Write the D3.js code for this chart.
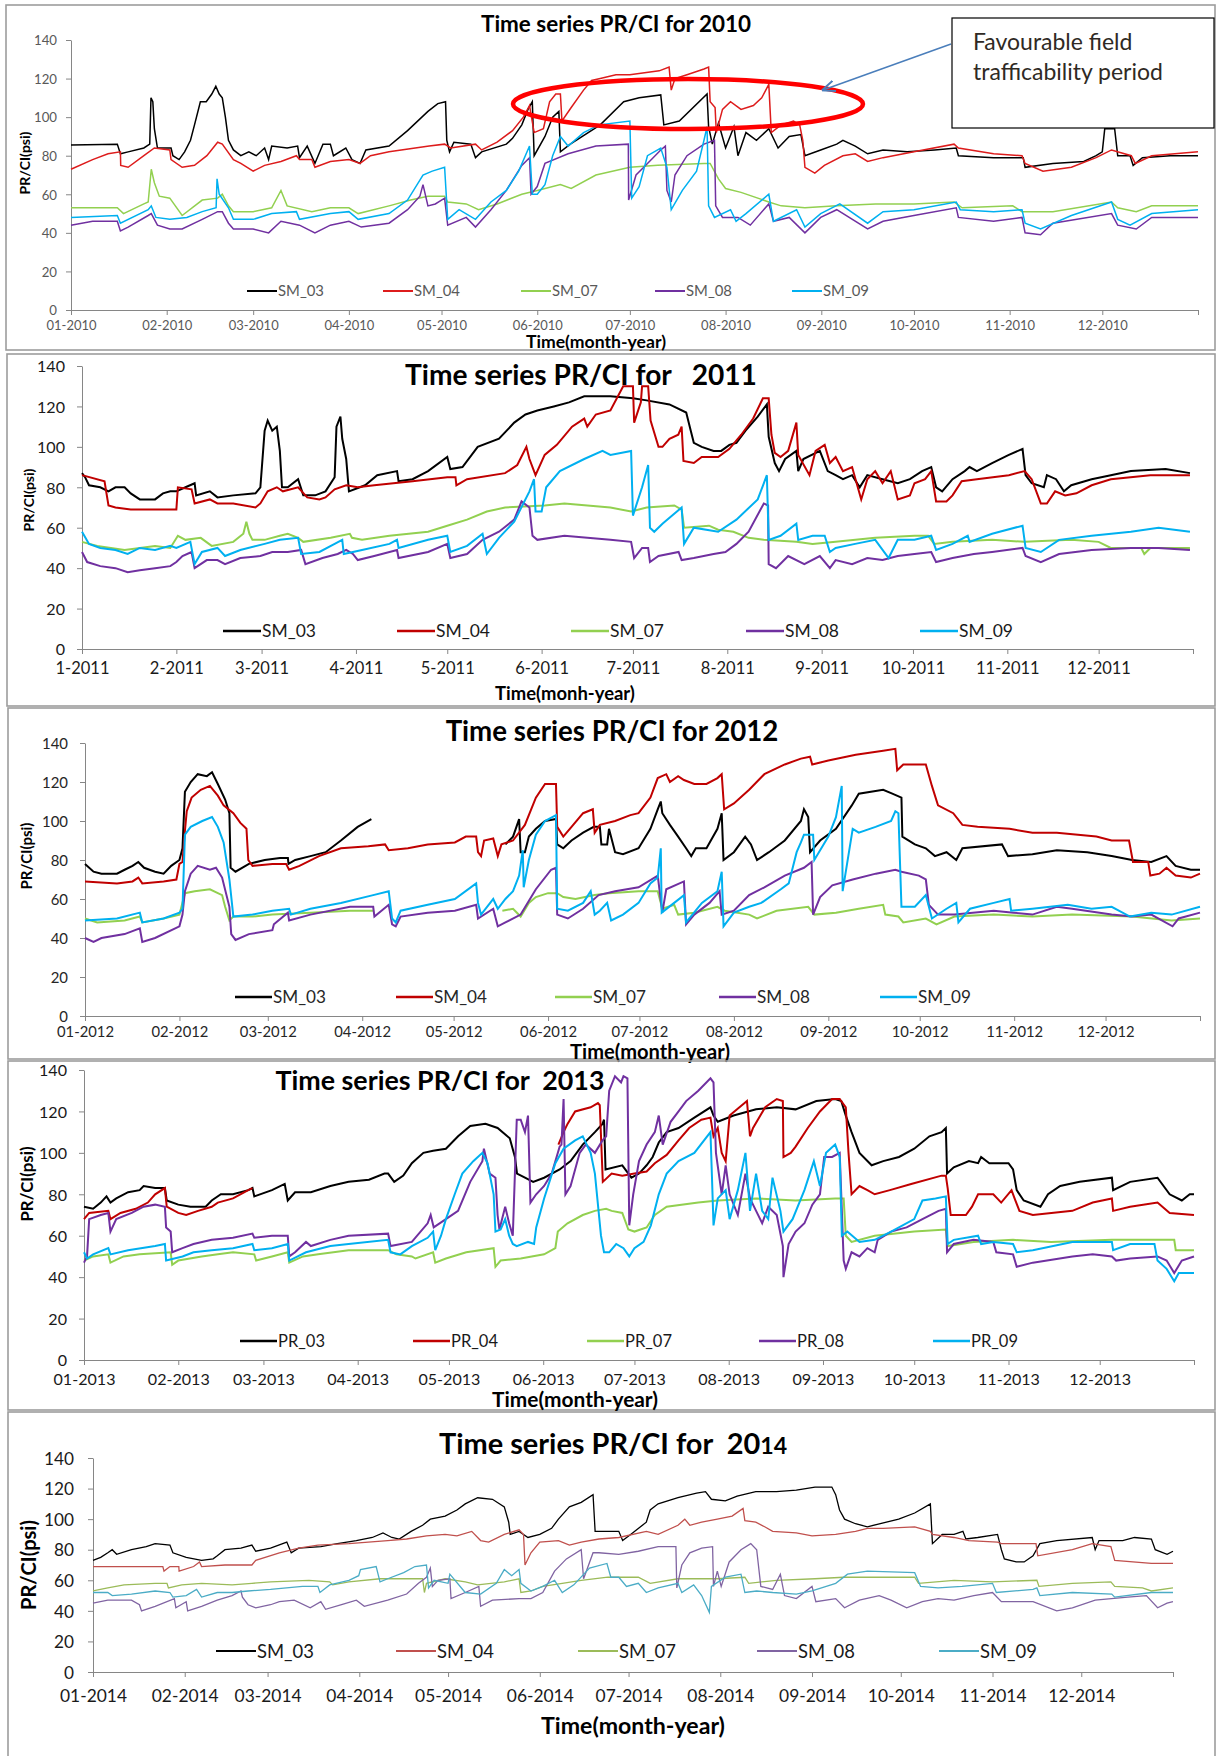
<!DOCTYPE html>
<html>
<head>
<meta charset="utf-8">
<script src="https://cdn.jsdelivr.net/npm/d3@7"></script>
<style>
  body { margin: 0; background: #fff; }
  svg { display: block; }
  text { font-family: Lato, "Open Sans", "Noto Sans", sans-serif; }
</style>
</head>
<body>
<svg id="chart" width="1217" height="1756"></svg>
<script>
// ---------- labels ----------
const namesSM = ["SM_03", "SM_04", "SM_07", "SM_08", "SM_09"];
const namesPR = ["PR_03", "PR_04", "PR_07", "PR_08", "PR_09"];
const yTicks = [0, 20, 40, 60, 80, 100, 120, 140];

// ---------- series: [day of year, PR/CI psi]; null marks a gap in the record ----------
// 2010
const sm03_2010 = [[0,85.5],[15,86],[16,81],[18.5,82],[23.6,84],[25.5,86],[25.9,110],[26.5,108],[27,94],[28,84],[32.4,84],[33,80],[35,78],[36.8,82],[38.7,88],[40,96],[41.9,108],[43.8,108],[45.6,112],[46.9,116],[48,112],[49,110],[50,100],[51,88],[52.6,83],[55,80],[57.6,82],[60,80],[62.7,84],[64,78],[65,85],[70,84],[73.4,85],[74,79],[76.5,85],[79,76],[81.6,86],[84,86],[85,80],[89,84],[91,78],[93.6,76],[95.5,83],[103,85],[109,93],[115.6,103],[118.8,107],[121.3,108],[121.7,88],[122.6,82],[124,87],[129.5,86],[131,79],[133,82],[141,86],[143,89],[146,96],[148,104],[149.4,108],[150,80],[153.5,90],[156,100],[158,103],[158.5,82],[161.7,86],[171.4,96],[179,108],[184,110],[191,111.5],[192,96],[197,98],[206,112],[206.5,95],[207.7,86],[209.7,97],[212,84],[214.7,95],[216,80],[218.6,92],[222,88],[226,94],[229,84],[232.6,90],[236.4,91],[237.7,80],[242.8,83],[248,86],[250,88],[254,85],[258,81],[263,83],[270.8,82],[279.7,83],[286.7,84],[287.4,80],[298.8,79],[308.4,79],[309,74],[318,76],[328,77],[332,80],[334,82],[334.8,94],[338,94],[339,80],[343,80],[344,75],[347,79],[356,80],[365,80]];
const sm04_2010 = [[0,73],[7,78],[12,81],[16,82],[16.1,75],[18.5,74],[23.6,80],[27,84],[32,83],[32.4,78],[36,74],[40,75],[44,80],[47.5,87],[49,86],[52.6,78],[55,76],[59,72],[62.7,75],[68,77],[73,80],[74,78],[78,78],[79,74],[84,77],[90,78],[93.6,76],[97,80],[103,82],[116,85],[121,86],[123,84],[131,86],[133,83],[138,87],[143,93],[146.5,100],[148.5,106],[150,92],[153,94],[155,108],[157,112],[158.5,112],[159,98],[162,105],[166,114],[168.6,119],[171.4,120],[176.5,122],[181,122],[190.5,124],[193.7,126],[194.4,114],[195.6,120],[199.5,122],[205,125],[206.5,126],[207,108],[208.6,105],[209,92],[211,104],[213.6,108],[217,104],[221,106],[223.7,110],[226,117],[226.8,92],[230,96],[234,98],[236,96],[237,88],[237.7,74],[240.9,71],[244,75],[250,80],[254,81],[258,77],[263,79],[273,82],[286,86],[287.4,84],[298.8,81],[308,80],[309,76],[314.8,72],[324,74],[332,79],[337,83],[343.4,80],[344.7,76],[350,80],[365,82]];
const sm07_2010 = [[0,53],[15,53],[17,50],[23.6,55],[25,56],[26,73],[27,66],[28.6,59],[32,58],[36,49],[42.5,57],[47.5,58],[49,60],[51,54],[52.6,51],[59,51],[65,53],[68,62],[70,54],[78,51],[84,53],[90,53],[93,50],[103,54],[110,57],[115.6,59],[121,59],[122,56],[128,55],[132,52],[138,55],[146,60],[151,62],[158.5,65],[162,63],[170,70],[181,74],[190,75],[205,76],[207,76],[209.7,68],[212,63],[217,61],[226,56],[230,54],[237.7,53],[248,54],[260.6,55],[273,55],[286,56],[288.6,53],[305,54],[308,51],[318,51],[337,56],[339,53],[345,51],[350,54],[365,54]];
const sm08_2010 = [[0,44],[7,46],[15,46],[16,41],[18.5,43],[25,49],[26,50],[28,44],[32,42],[36,42],[42.5,47],[47.5,51],[49,51],[51,45],[52.6,42],[59,42],[64,40],[68,46],[74,44],[79,40],[84,44],[90,46],[94,43],[103,45],[109,52],[113,59],[114,65],[115.6,54],[118,55],[121,58],[122,44],[128,48],[131,43],[136,52],[141,62],[146,75],[148.5,79],[149,60],[151,64],[153.5,76],[161,81],[170,85],[180.5,86],[180.6,57],[183,70],[185.5,74],[191,83],[192.5,85],[193,62],[194.4,56],[195.6,70],[199.5,80],[205,86],[208.4,88],[208.8,54],[211,48],[216,48],[220,44],[226,55],[227.5,46],[232.6,48],[237.7,40],[242.8,48],[248,52],[258,42],[263,46],[273,49],[286.7,53],[287.4,48],[298.8,46],[308,48],[309,40],[314,39],[318,45],[337,50],[339,44],[345,42],[350,48],[365,48]];
const sm09_2010 = [[0,48],[15,49],[16,45],[25,52],[26,54],[27.5,48],[32,47],[37.5,48],[42.5,51],[47,53],[47.3,68],[48,60],[51,53],[52.6,47],[59,47],[65,50],[73,51],[74,47],[84,50],[90,51],[93,47],[103,50],[109,57],[114,70],[117,72],[121,74],[122,47],[125.7,52],[131,47],[136,56],[141,62],[145,72],[148.5,85],[149.4,60],[151,60],[153.5,65],[156,80],[158.5,90],[161,85],[166,92],[171,96],[181,98],[181.6,58],[184,64],[186.7,80],[191,84],[193,74],[194.4,52],[198,62],[202.6,72],[205,88],[206,95],[206.5,54],[208.4,48],[213.6,52],[215.4,46],[218.6,50],[226,60],[227.5,46],[235,52],[237.7,43],[242.8,50],[249,55],[258,45],[263,51],[273,52],[286.7,56],[288,52],[298.8,51],[308,52],[309,45],[314,42],[324,49],[337,56],[339,47],[343,44],[350,50],[365,52]];

// 2011
const sm03_2011 = [[0,87],[1,85],[2.3,81],[6,80],[8.7,78],[11,80],[14,80],[16,77],[19,74],[24,74],[26.6,77],[29,78],[31,78],[34,80],[37,82],[37.5,76],[42,78],[44.5,75],[49.7,76],[57,77],[58.6,80],[60,108],[61,113],[62.5,108],[64,110],[65,98],[65.7,80],[67.6,80],[71,84],[72.7,76],[76.6,76],[80,78],[83,85],[83.6,110],[84.9,115],[85.5,104],[86.8,94],[87.7,78],[93,81],[97,86],[103.5,88],[104,83],[108.6,84],[113.7,88],[120,95],[121,89],[125,90],[130,100],[137,104],[142,112],[145.7,116],[149.6,118],[155,120],[160,122],[165,125],[173.6,125],[181,124],[185.5,123],[193,121],[198.5,117],[200,108],[201,102],[203.6,100],[207.5,98],[210,98],[212.7,101],[215,102],[218,108],[222,115],[225,121],[225.6,105],[227.6,92],[229,88],[231,94],[234.7,98],[235.3,88],[237,94],[242.4,98],[245,88],[247.6,86],[250,84],[253,86],[255.5,80],[258,86],[263,84],[268,82],[272,84],[276,88],[279,90],[280.6,80],[282.6,78],[286,84],[290,88],[291.6,90],[294,88],[299,92],[304.5,96],[309,99],[310,86],[312,82],[316,80],[317,86],[320,84],[322.6,78],[325,81],[331.7,84],[338,86],[344.6,88],[356,89],[364,87]];
const sm04_2011 = [[0,86],[7.4,83],[8.7,71],[11,70],[16,69],[24,69],[31,69],[31.5,80],[36,79],[37,72],[42,74],[44.5,72],[49.7,72],[57,70],[58.6,72],[61,78],[64,80],[66,78],[71,80],[74,75],[78,74],[80,75],[83,79],[86.8,81],[90.6,80],[96,81],[108.6,83],[120,85],[122.7,85],[123,81],[126.5,84],[139,87],[143,91],[146,100],[147,94],[149,86],[152,96],[156,101],[161,110],[165,114],[166,110],[168.8,116],[173.6,118],[177.8,130],[181,130],[181.4,112],[183.6,122],[184,130],[186,130],[186.8,113],[189.4,100],[190.7,100],[193,104],[195.9,106],[197,110],[197.6,93],[201,92],[203.6,95],[209,95],[212.7,99],[216.6,106],[220.5,114],[223.7,124],[225.6,124],[226.5,106],[227.6,97],[229.5,95],[232,98],[234.7,112],[235.3,96],[239,86],[241,98],[244,101],[245.7,92],[247.6,95],[250,88],[253,90],[256,74],[258,84],[260.6,88],[263,82],[265.7,88],[268,74],[272,76],[273.5,82],[277,84],[279,88],[280.6,73],[284,73],[286,76],[289,83],[294,84],[304.5,86],[309.7,88],[312,84],[315,72],[317,72],[319.7,78],[323,76],[326.7,77],[331.7,81],[338,84],[351,86],[364,86]];
const sm07_2011 = [[0,53],[5,51],[14,49],[24,51],[29,50],[31.5,56],[34,54],[39,55],[42.6,51],[49.7,53],[53,57],[54,63],[55,57],[56,54],[60,54],[65,56],[67.6,57],[71,55],[72.7,53],[81.7,55],[88,57],[88.7,55],[92,54],[101,56],[113.7,58],[120,61],[126.5,64],[133,68],[139,70],[152,71],[158.5,72],[173.6,70],[180.4,68],[185.5,70],[194.6,71],[197,69],[197.8,60],[206,61],[209,59],[214,58],[219,55],[224,54],[234.7,53],[240,52],[247.6,53],[260.6,55],[273.5,56],[278,56],[280,52],[286,53],[299,54],[309.7,53],[325,54],[334,53],[338,50],[348,50],[349,47],[351,50],[364,50]];
const sm08_2011 = [[0,48],[1.7,43],[6,41],[11,40],[15,38],[19,39],[24,40],[29,41],[31,43],[33,46],[36,48],[37,40],[41,44],[44.5,44],[47,42],[52,45],[58.6,46],[62.5,48],[67.6,48],[72,49],[73.4,42],[79,45],[84,47],[86.8,49],[89,47],[90.6,44],[96,46],[103.5,49],[104,45],[113.7,48],[120,52],[121,45],[126.5,47],[131.6,54],[137,58],[142,64],[144.4,73],[147,70],[148,56],[149.6,54],[158.5,56],[173.6,54],[180.4,53],[181.4,45],[184,50],[186,50],[186.6,43],[189.4,46],[196,48],[197,44],[201,45],[207.5,47],[211.4,48],[215,52],[219,58],[224,72],[225.4,71],[225.6,42],[228,40],[232,46],[237.3,42],[242.4,46],[245.7,40],[247.6,44],[253,42],[258,45],[263,44],[268,46],[273.5,47],[279,48],[280.6,43],[286,45],[293,47],[299,48],[309,50],[310,46],[315,43],[321,47],[331.7,49],[344.6,50],[353.7,50],[364,49]];
const sm09_2011 = [[0,58],[2.3,52],[6,50],[11,49],[15,47],[19,50],[24,49],[29,51],[31,50],[35.6,53],[37,42],[39.4,48],[44.5,50],[47,46],[52,49],[60,52],[65,54],[71,55],[72,47],[78,48],[83,52],[85.5,54],[86,47],[92,49],[101,52],[103.5,54],[104,50],[113.7,54],[120,56],[121,48],[126.5,51],[131.6,57],[133,47],[137,55],[142,63],[147,78],[148.5,84],[149,68],[151,68],[152.5,80],[157,88],[165,94],[171,98],[173.6,96],[180.4,98],[181,66],[184,80],[186,91],[186.6,60],[188,58],[190.7,62],[197,70],[197.8,52],[201,60],[209,58],[215,64],[222,74],[225,86],[225.6,54],[229.5,56],[234.7,62],[235.3,54],[240,56],[244,56],[245.7,48],[247.6,50],[254,52],[260.6,54],[265,45],[268,54],[273.5,54],[279,56],[280.6,49],[286,52],[291,56],[291.6,53],[299,57],[309,61],[310,50],[315,48],[321,54],[331.7,56],[344.6,58],[353.7,60],[364,58]];

// 2012
const sm03_2012 = [[0,78],[2.8,74],[5.4,73],[10.5,73],[13,75],[15.6,77],[17.5,79],[19.4,76],[23,74],[25.8,73],[28.3,77],[31,80],[32,86],[32.8,115],[34.7,120],[37,124],[40,123],[41.7,125],[43.6,119],[46,111],[47.4,104],[47.8,76],[49.4,74],[53.8,78],[59,80],[64,81],[66.6,81],[66.8,78],[69,80],[74,82],[79,84],[84,90],[89.5,97],[94,101],[94.1,null],[137.9,null],[138,88],[140.5,92],[142.5,101],[143,84],[144.4,84],[145.7,92],[148,96],[151,100],[154.6,101],[155,88],[157,86],[159.7,90],[163.5,94],[167,97],[169,97],[169.5,88],[171.4,88],[172,96],[174,84],[176.6,83],[181.7,86],[185.6,96],[188,106],[189,110],[189.5,104],[192,98],[194.7,92],[197.3,86],[199,82],[200.5,86],[204,86],[207.6,96],[209,104],[209.6,80],[213,84],[216.7,92],[218.6,88],[220.6,80],[224.5,84],[229.7,90],[235,100],[236,106],[237.4,102],[238,84],[241.3,90],[246.5,96],[251.7,108],[254,114],[262,116],[265,114],[268,112],[268.3,92],[272.4,88],[276,86],[279,82],[282.8,84],[286,80],[288,86],[301,88],[303,82],[311,83],[319,85],[329,84],[337,82],[343.7,80],[350,79],[355,82],[358,77],[363,75],[366,75]];
const sm04_2012 = [[0,69],[10.5,68],[15.6,69],[17.5,71],[18.8,68],[25.8,69],[30,70],[31,78],[32,79],[32.8,95],[33.4,105],[35,112],[38,116],[41,118],[43.6,113],[45.5,108],[48.7,104],[51,99],[53,96],[53.6,80],[55,77],[61.5,78],[66,78],[67,75],[70.4,77],[76.8,82],[84,86],[93,87],[98.5,88],[99.7,85],[106,86],[112.5,88],[121.4,89],[125,92],[128.4,92],[129,84],[130,82],[131,90],[134,91],[135.5,82],[136.7,88],[140.5,90],[144.4,98],[148,112],[151,119],[154.6,119],[155,97],[157,92],[159.7,97],[163.5,104],[166.7,106],[167.3,94],[169,98],[174,100],[179,103],[181.7,104],[185.6,112],[188,122],[190.8,124],[192,120],[194.7,123],[196.6,121],[200,119],[204,119],[207.6,122],[209,124],[209.8,106],[213,109],[218,116],[223,124],[229.7,129],[235,132],[238,133],[238.7,129],[244,131],[253,134],[262,136],[266,137],[266.6,126],[268.6,129],[276,129],[278,118],[280,108],[285,104],[288,98],[293,97],[303.5,96],[311,94],[319,94],[332,92],[337,90],[342.7,90],[344,79],[349,79],[349.7,72],[352.7,73],[355,76],[358,72],[363,71],[366,73]];
const sm07_2012 = [[0,50],[4,48],[13,49],[18,51],[18.8,48],[25.8,50],[31,52],[32.8,63],[36,64],[41,65],[45,62],[46,56],[47.4,49],[48.7,51],[55,51],[61.5,52],[74,53],[87,54],[94.6,54],[94.7,null],[136.9,null],[137,54],[140.5,55],[143,51],[145.7,58],[148,61],[152,63],[155,63],[157,61],[161,60],[167.3,62],[172,63],[181.7,64],[188,64],[189.5,55],[193.4,57],[194.7,52],[200,53],[207.6,56],[210,54],[218,52],[220.6,50],[227,54],[237.4,56],[239.4,52],[246.5,53],[254,55],[262,57],[262.7,52],[267,51],[268.6,48],[276,50],[279.5,47],[285.4,51],[298.3,52],[311,51],[324,52],[343.7,51],[356.7,49],[366,50]];
const sm08_2012 = [[0,40],[2.8,38],[5.4,40],[13,42],[18,45],[18.8,38],[23,40],[31,46],[32,52],[32.8,64],[34.7,73],[37,77],[41,75],[43,76],[45,71],[47.4,56],[48,42],[49.4,39],[53.8,42],[61.5,44],[62,47],[66.6,53],[67,49],[74,52],[87,56],[94.6,56],[95,51],[99.7,57],[100.8,47],[102,46],[103.6,51],[112.5,53],[121.4,54],[128.4,57],[129,50],[134,55],[135.5,46],[138,48],[143,52],[148,65],[153,75],[154.6,76],[155,52],[158.5,50],[163.5,55],[168.6,62],[174,64],[181.7,66],[188,72],[189.5,53],[190.8,65],[196.6,69],[197.3,47],[200,52],[205,58],[208.3,64],[209,52],[213,54],[218,62],[223,66],[229.7,72],[236,76],[238.5,79],[239,52],[241.3,61],[245.3,67],[252,70],[259.6,73],[266,75],[268,74],[273.7,72],[276,70],[277,57],[280,52],[285.4,52],[298.3,54],[304.8,53],[311,52],[319,56],[324,55],[337,52],[343.7,51],[350,52],[357,46],[359,50],[366,53]];
const sm09_2012 = [[0,49],[10.5,50],[18,53],[18.8,48],[25.8,50],[31,53],[32,55],[32.8,93],[34.7,97],[38.5,100],[41.7,102],[43.6,97],[45.5,89],[47.4,70],[48.7,51],[55,52],[61.5,54],[67,55],[67.6,52],[74,55],[84,58],[94.6,62],[99.7,64],[100.8,50],[102,48],[103.6,54],[112.5,57],[121.4,60],[128.4,68],[129,58],[130,52],[133,58],[134,60],[135.5,55],[138,60],[140.5,64],[142.5,72],[143.7,85],[144,66],[145.7,80],[148,93],[151,100],[154.6,103],[155,55],[158.5,54],[163.5,58],[166,64],[167.3,52],[169,54],[171.4,58],[172.7,49],[176.6,52],[181.7,58],[185.6,68],[188,71],[189,86],[189.3,53],[193.4,58],[196.6,62],[197.3,48],[202.5,58],[207.6,64],[209,74],[209.6,46],[213,53],[218,56],[222,58],[228.4,65],[231,68],[233.6,84],[235,89],[236,93],[239,93],[239.4,80],[244,92],[246.5,102],[248.4,118],[248.7,64],[252,96],[254,94],[259.5,97],[264.6,100],[266,105],[267,104],[268,56],[272.4,56],[276,62],[278,50],[282.8,55],[286,58],[286.7,48],[290.5,55],[298.3,58],[303.5,60],[304,54],[311,55],[322.6,57],[330.4,55],[337,56],[343,51],[350,53],[356.7,52],[366,56]];

// 2013
const pr03_2013 = [[0,74],[3,73],[5.5,76],[7.4,79],[8.7,76],[10.6,78],[14.5,81],[18.3,82],[19.6,84],[23.4,83],[26.6,83],[27.2,77],[31,75],[35,74],[40,74],[42,77],[45,80],[49,80],[54,82],[55.4,83],[56,79],[61.8,82],[66,85],[67,77],[69.4,81],[74.6,81],[81,84],[87,86],[93.7,87],[98.8,90],[100,90],[102,86],[105,89],[107.8,95],[111.6,100],[114.8,101],[119,102],[123,108],[127,113],[132,114],[136,112],[140,107],[141.7,98],[142.4,90],[145,88],[147.7,86],[151.3,88],[156.4,92],[160,96],[164,104],[168,110],[170.5,114],[171,116],[171.5,92],[177,94],[180,88],[182.5,90],[185,94],[187,98],[189,105],[191.6,110],[195.5,112],[200.7,117],[206,122],[207,118],[208.4,115],[213.6,118],[221,121],[227.8,122],[234,121],[240.8,125],[247,126],[249,125],[250.5,118],[252.4,110],[255,100],[259,94],[262.8,96],[268,98],[273,102],[278,108],[282,110],[283.4,112],[283.8,90],[286,93],[291,96],[294,95],[295,98],[297.7,95],[304,95],[305.5,92],[306.7,82],[309,77],[314.5,74],[317,80],[321,84],[327.4,86],[338,88],[338.4,82],[344,86],[353,88],[357,80],[361,77],[363.6,80],[365,80]];
const pr04_2013 = [[0,68],[1.7,71],[8,72],[8.7,68],[12,71],[17,73],[21,76],[23.4,80],[26.6,83],[27.2,74],[31,71],[33.6,70],[37.5,72],[42,74],[44,76],[49,78],[54,82],[55.4,83],[55.5,null],[155.9,null],[156,104],[157.7,110],[159,114],[161.5,120],[166.6,122],[169,124],[169.6,123],[170.6,86],[173.5,90],[177,89],[181,90],[185,91],[187.7,95],[191.6,99],[195.5,106],[199,112],[203,116],[206,117],[207,108],[208.4,112],[209.7,100],[211,96],[212.3,118],[218,125],[219,108],[220,112],[224,122],[227.8,126],[229.8,125],[230,98],[232.4,100],[234,103],[238,112],[242,120],[246,126],[248.5,126],[250.5,122],[251.4,100],[252.4,80],[255,84],[257.6,82],[260,80],[265,82],[272,85],[282,89],[283.4,89],[284,83],[285,70],[290,70],[292,74],[294,80],[299,80],[301.6,76],[305,82],[306,78],[307.6,72],[312,70],[325,72],[331.7,76],[338,78],[338.4,72],[344,74],[353,76],[357,71],[365,70]];
const pr07_2013 = [[0,48],[3,50],[8,51],[8.7,47],[13,50],[18.3,51],[28.5,52],[29,46],[31,48],[38.7,50],[44,51],[49,52],[56,51],[56.6,48],[61.8,50],[67,52],[67.5,47],[72,50],[77,51],[87,53],[100,53],[102.7,51],[107.8,50],[109,49],[114.8,52],[115.5,47],[119,49],[125.7,52],[134.7,54],[135.3,45],[137,48],[143.6,49],[151.3,51],[155,54],[155.8,62],[159,66],[164,70],[168,72],[171.7,73],[173.5,72],[177,71],[179,63],[181,62],[185,64],[187.7,70],[191.6,74],[202,76],[208.4,77],[221,78],[234,77],[247,78],[249.8,78],[250.5,60],[252.4,57],[260,60],[273,62],[283.4,63],[284,55],[292.5,57],[305.5,58],[318,57],[338,58],[358.5,58],[359,53],[365,53]];
const pr08_2013 = [[0,47],[1,50],[1.7,68],[5.5,70],[8,71],[8.7,62],[10.6,68],[15.7,71],[19.6,74],[23.4,75],[26.6,74],[27,64],[28.5,62],[29,52],[32.4,54],[36,56],[42,58],[49,59],[55.4,61],[56,59],[61.8,60],[67,60],[67.5,50],[69.4,52],[73,57],[74.6,55],[81,58],[87,60],[100,61],[100.8,55],[107.8,57],[113,66],[114,70],[115,64],[119,68],[123,72],[127,86],[131,96],[131.5,102],[133.4,90],[135.3,88],[136,70],[136.6,63],[138.5,74],[139.8,66],[141,60],[142.3,116],[143.6,116],[145,110],[146,118],[146.8,76],[148.7,80],[151.3,84],[153.8,90],[156.4,103],[157,104],[157.7,126],[158.3,80],[160,84],[163,100],[165,104],[168,100],[170.5,106],[171.7,108],[172.7,130],[174.6,137],[176.6,134],[177.4,137],[178.7,136],[179.3,65],[180.6,80],[182.5,96],[185,104],[187.7,110],[189,118],[190.3,104],[192.9,115],[195.5,120],[198,125],[202,130],[206,136],[207,134],[207.8,100],[209.7,80],[211,94],[212.3,80],[215,70],[217.5,90],[219,78],[221,72],[223,66],[225,74],[227.8,70],[229.8,55],[230,40],[231.7,56],[234,62],[236.9,66],[239.5,75],[242,80],[243.4,98],[246,98],[248.5,100],[249.8,48],[250.5,44],[252.4,52],[255,50],[257.6,54],[260,52],[261,58],[265.4,62],[270.5,64],[275.7,68],[281,72],[283.4,73],[283.8,52],[286,56],[292.5,58],[299,57],[300,52],[305.5,51],[306.7,45],[312,47],[325,50],[331.7,51],[338,50],[339.4,48],[344,49],[353,50],[356,48],[358.5,42],[361,48],[365,50]];
const pr09_2013 = [[0,52],[1,49],[3,51],[8,54],[8.7,51],[14.5,53],[23.4,55],[26.6,56],[27,48],[32.4,50],[36,52],[42,53],[49,54],[55.4,56],[56,53],[61.8,54],[67,56],[67.5,48],[73,52],[81,55],[87,56],[100,58],[100.8,52],[104,51],[107.8,55],[113,59],[114.8,62],[115.5,53],[117.4,60],[119,68],[121.9,80],[124.4,90],[128,96],[131,100],[132.7,95],[134.7,80],[135.3,62],[137,63],[138.5,68],[139.8,60],[141,56],[142.3,55],[146,57],[148,56],[148.7,64],[151.3,78],[155,95],[157.7,102],[161.5,106],[164,108],[166.6,100],[168,90],[170,60],[171,52],[172.7,52],[175,56],[177.4,54],[179.3,50],[181,54],[184,57],[186.4,65],[189,80],[191.6,90],[195.5,96],[200.7,100],[206,110],[206.5,88],[207,65],[208.4,78],[211,82],[212.3,68],[215,82],[217.5,100],[219,72],[221,90],[223,72],[225,68],[226.4,88],[229,72],[230,62],[233,68],[236.9,82],[240,96],[242,84],[244,100],[247,104],[248.5,98],[249.2,60],[251,62],[255,57],[260,58],[265.4,62],[273,68],[275.7,77],[280,78],[283.4,79],[284,56],[286,58],[294,60],[295,56],[299,57],[305.5,56],[306.7,52],[312,53],[325,57],[338,57],[338.4,53],[344,56],[352,56],[353,48],[356,44],[358.5,38],[360,42],[365,42]];

// 2014
const sm03_2014 = [[0,73],[2.6,75],[5,78],[6.5,80],[8,77],[13,80],[18,82],[21,84],[26,83],[27,78],[31.5,75],[36.7,73],[40.6,74],[42,76],[44.6,80],[50,81],[53.7,83],[55,79],[60,81],[65.5,85],[67,78],[69.5,81],[77,82],[82.6,84],[89,86],[94.4,88],[98,91],[101,88],[103.5,87],[107.5,92],[111.4,96],[114,100],[119,102],[123,106],[125.8,110],[130,114],[135,113],[139,108],[140.5,98],[141,90],[144,92],[147,88],[151,90],[155,94],[157.3,100],[161,108],[165,111],[169,116],[169.7,92],[177.7,92],[179,86],[181.7,90],[187,98],[188.3,106],[191,110],[197.7,114],[204,117],[207,118],[209,113],[213.7,112],[217.7,115],[224,118],[231,118],[237.7,119],[244,121],[249.7,121],[251,116],[252.3,106],[254,100],[257.7,97],[261.7,95],[272.3,100],[277.7,104],[283,110],[283.7,84],[287,90],[291,90],[294,92],[295,87],[299,88],[305.7,90],[307,80],[308,74],[312,72],[314.7,72],[317.7,76],[320,84],[325.7,86],[337.7,88],[338.7,80],[340,86],[348,86],[352,88],[357.7,87],[359,80],[363,77],[365,79]];
const sm04_2014 = [[0,69],[23.6,69],[24,66],[26,69],[29,69],[29.1,66],[34,69],[36,72],[36.7,69],[44.6,70],[53.7,70],[55,73],[63,78],[69.5,81],[76,83],[86.5,84],[99.6,86],[106,87],[112.7,89],[119,90],[123,89],[128,92],[131,86],[133.7,85],[139,90],[144,93],[145.5,90],[146,70],[148,78],[151,85],[157.3,86],[161,83],[165,85],[171,87],[177.7,88],[187,92],[191,90],[197.7,96],[200,100],[201.7,96],[205.7,98],[211,100],[216,102],[219.7,107],[220.3,99],[224,98],[227,95],[229.7,92],[237.7,91],[243,89],[251,90],[257.7,92],[261.7,94],[267,94],[277.7,95],[283,92],[283.7,90],[291,88],[296,86],[305.7,85],[307,84],[312,84],[318.7,84],[319.3,76],[331,80],[337.7,84],[344,82],[345.3,73],[357.7,71],[365,71]];
const sm07_2014 = [[0,53],[5,55],[10.5,57],[21,58],[25,58],[25.5,55],[30,57],[36.7,58],[47,57],[53.7,58],[60,59],[73,60],[80,59],[81,57],[86.5,59],[97,61],[107.5,61],[111.4,61],[112,52],[112.7,58],[119,61],[125.8,59],[130,57],[139,59],[144,61],[144.6,52],[148,53],[152,56],[158.6,58],[165,60],[174,62],[184.3,62],[188.3,58],[197.7,61],[211,61],[220.3,62],[221.6,58],[231,60],[244,61],[253.7,62],[264,62],[277.7,62],[279,58],[291,60],[304,59],[319,60],[319.7,56],[331,58],[344,59],[345.3,56],[354.7,55],[357.7,53],[365,55]];
const sm08_2014 = [[0,45],[5,47],[13,47],[15.7,44],[16.4,40],[21,43],[27.5,48],[28,42],[31.5,46],[32,40],[36.7,43],[42,47],[47,50],[50,53],[50.5,49],[52.4,44],[55,42],[60,44],[63,46],[68,47],[73.4,42],[77,46],[78.6,41],[84,44],[89,47],[91.7,43],[99.6,47],[106,51],[110,58],[112.7,62],[114,68],[114.7,56],[116.6,60],[120.6,61],[121,48],[125.8,52],[130.4,56],[131,43],[135,47],[144,48],[148,48],[152,52],[156,66],[160,74],[165,80],[165.8,61],[169,78],[171,78],[177.7,77],[184.3,79],[191,82],[197,82],[197.3,55],[199,70],[201.7,78],[205.7,81],[209.4,82],[209.7,56],[211,66],[212.3,56],[215,72],[219,80],[222.3,84],[224.3,80],[225.7,56],[229.7,54],[232.3,64],[233.7,50],[237.7,48],[243,56],[244.3,46],[251,48],[254,42],[259,47],[265.7,50],[269.7,47],[275,42],[280.3,46],[285.6,48],[291,47],[297.7,50],[304,52],[307,46],[317.7,46],[325.7,40],[331,42],[338.7,47],[349.7,49],[356,50],[359.8,42],[363,45],[365,46]];
const sm09_2014 = [[0,52],[5,52],[6.5,50],[13,51],[21,53],[26,52],[27,49],[31.5,50],[35,54],[36.7,49],[42,52],[47,52],[52.4,53],[60,54],[70.8,56],[76,56],[76.7,52],[80,57],[86.5,60],[89.8,63],[90.4,67],[95.7,69],[97,59],[99.6,61],[105,65],[108.8,69],[112.7,70],[113.4,55],[115.3,60],[120,58],[120.6,64],[125.8,52],[131,51],[136.3,58],[139,67],[141.5,63],[144,67],[144.6,58],[148,53],[152,56],[156,60],[158.6,52],[162.5,57],[167.8,68],[173.7,71],[175,62],[177.7,62],[180.3,56],[184.3,58],[187,52],[191,55],[197.7,58],[199,52],[203,57],[205.7,50],[208.3,39],[209,56],[213.7,62],[219,64],[220.3,52],[224.3,53],[229.7,52],[237.7,51],[243,53],[251,58],[255,64],[261.7,66],[277.7,65],[279.7,56],[285.6,55],[293.7,56],[304,58],[305.3,52],[317.7,54],[319,55],[320,50],[331,52],[344.3,51],[345.3,49],[357.7,52],[365,52]];

// ---------- styling / layout for each yearly panel ----------
const officeColors = ["#000000", "#c00000", "#92d050", "#7030a0", "#00b0f0"];
const panels = [
  { year: 2010, names: namesSM, series: [sm03_2010, sm04_2010, sm07_2010, sm08_2010, sm09_2010],
    colors: ["#000000", "#dd1c1c", "#92d050", "#7030a0", "#00b0f0"], lw: 1.5,
    box: [6, 5, 1215, 350], x0: 71, x1: 1198, yt: 40, yb: 310,
    fmt: "%m-%Y", tickSample: "01-2010", tickW: 50, tickCy: 325, yTickW: 23, yTickGap: 14, tickFill: "#595959",
    title: ["Time series PR/CI for 2010"], titleCx: 616, titleCy: 24, titleW: 270,
    xLabel: "Time(month-year)", xLabelCx: 596, xLabelCy: 342, xLabelW: 140,
    yLabelCx: 25, yLabelCy: 163, yLabelW: 63,
    legendCy: 291, legendX: [247, 383, 521, 655, 792], legendLen: 30, legendTextW: 46 },
  { year: 2011, names: namesSM, series: [sm03_2011, sm04_2011, sm07_2011, sm08_2011, sm09_2011],
    colors: officeColors, lw: 2,
    box: [7, 354, 1215, 706], x0: 82, x1: 1193, yt: 366, yb: 649,
    fmt: "%-m-%Y", tickSample: "1-2011", tickW: 54, tickCy: 668, yTickW: 28, yTickGap: 17, tickFill: "#1a1a1a",
    title: ["Time series PR/CI for   2011"], titleCx: 581, titleCy: 375, titleW: 352,
    xLabel: "Time(monh-year)", xLabelCx: 565, xLabelCy: 693, xLabelW: 140,
    yLabelCx: 29, yLabelCy: 500, yLabelW: 63,
    legendCy: 631, legendX: [223, 397, 571, 746, 920], legendLen: 38, legendTextW: 54 },
  { year: 2012, names: namesSM, series: [sm03_2012, sm04_2012, sm07_2012, sm08_2012, sm09_2012],
    colors: officeColors, lw: 2,
    box: [8, 708, 1215, 1059], x0: 85, x1: 1200, yt: 743, yb: 1016,
    fmt: "%m-%Y", tickSample: "01-2012", tickW: 57, tickCy: 1032, yTickW: 26, yTickGap: 17, tickFill: "#262626",
    title: ["Time series PR/CI for 2012"], titleCx: 612, titleCy: 731, titleW: 333,
    xLabel: "Time(month-year)", xLabelCx: 650, xLabelCy: 1052, xLabelW: 160,
    yLabelCx: 27, yLabelCy: 856, yLabelW: 67,
    legendCy: 997, legendX: [235, 396, 555, 719, 880], legendLen: 37, legendTextW: 53 },
  { year: 2013, names: namesPR, series: [pr03_2013, pr04_2013, pr07_2013, pr08_2013, pr09_2013],
    colors: officeColors, lw: 2,
    box: [8, 1061, 1215, 1410], x0: 84, x1: 1194, yt: 1070, yb: 1360,
    fmt: "%m-%Y", tickSample: "01-2013", tickW: 62, tickCy: 1379, yTickW: 28, yTickGap: 17, tickFill: "#1a1a1a",
    title: ["Time series PR/CI for  2013"], titleCx: 440, titleCy: 1080, titleW: 329,
    xLabel: "Time(month-year)", xLabelCx: 575, xLabelCy: 1399, xLabelW: 166,
    yLabelCx: 27, yLabelCy: 1184, yLabelW: 75,
    legendCy: 1341, legendX: [240, 413, 587, 759, 933], legendLen: 37, legendTextW: 47 },
  { year: 2014, names: namesSM, series: [sm03_2014, sm04_2014, sm07_2014, sm08_2014, sm09_2014],
    colors: ["#000000", "#c0504d", "#9bbb59", "#8064a2", "#4bacc6"], lw: 1.3,
    box: [8, 1412, 1215, 1770], x0: 93, x1: 1173, yt: 1458, yb: 1672,
    fmt: "%m-%Y", tickSample: "01-2014", tickW: 67, tickCy: 1696, yTickW: 30, yTickGap: 19, tickFill: "#1a1a1a",
    title: ["Time series PR/CI for  20", "14"], titleCx: 613, titleCy: 1444, titleW: 355,
    xLabel: "Time(month-year)", xLabelCx: 633, xLabelCy: 1726, xLabelW: 184,
    yLabelCx: 29, yLabelCy: 1565, yLabelW: 90,
    legendCy: 1651, legendX: [216, 396, 578, 757, 939], legendLen: 40, legendTextW: 57 }
];

const svg = d3.select("#chart");
svg.append("rect").attr("width", 1217).attr("height", 1756).attr("fill", "#fff");

// font size that makes a string span a given width
function sizeFor(str, width, weight) {
  const t = svg.append("text").attr("font-size", 100).attr("font-weight", weight || "normal")
    .style("white-space", "pre").text(str);
  const w = t.node().getComputedTextLength();
  t.remove();
  return 100 * width / w;
}

const DAY = 864e5;

function drawPanel(p) {
  const g = svg.append("g");
  g.append("rect")
    .attr("x", p.box[0]).attr("y", p.box[1])
    .attr("width", p.box[2] - p.box[0]).attr("height", p.box[3] - p.box[1])
    .attr("fill", "none").attr("stroke", "#9d9d9d").attr("stroke-width", 1.6);

  const start = new Date(Date.UTC(p.year, 0, 1));
  const end = new Date(Date.UTC(p.year + 1, 0, 1));
  const x = d3.scaleUtc().domain([start, end]).range([p.x0, p.x1]);
  const y = d3.scaleLinear().domain([0, 140]).range([p.yb, p.yt]);

  const tickFs = sizeFor(p.tickSample, p.tickW);
  const yTickFs = sizeFor("140", p.yTickW);
  const fmt = d3.utcFormat(p.fmt);

  // horizontal date axis, a tick at every month start
  const months = d3.utcMonth.range(start, d3.utcDay.offset(end, 1));
  const xAxis = g.append("g").attr("transform", `translate(0,${p.yb})`)
    .call(d3.axisBottom(x).tickValues(months).tickSize(5).tickSizeOuter(0)
      .tickFormat((d, i) => i < 12 ? fmt(d) : ""));
  xAxis.select(".domain").attr("stroke", "#868686");
  xAxis.selectAll(".tick line").attr("stroke", "#868686");
  xAxis.selectAll(".tick text")
    .attr("y", p.tickCy - p.yb).attr("dy", "0.36em")
    .attr("font-size", tickFs).attr("font-family", null).attr("fill", p.tickFill);

  // value axis
  const yAxis = g.append("g").attr("transform", `translate(${p.x0},0)`)
    .call(d3.axisLeft(y).tickValues(yTicks).tickSize(5).tickSizeOuter(0));
  yAxis.select(".domain").attr("stroke", "#868686");
  yAxis.selectAll(".tick line").attr("stroke", "#868686");
  yAxis.selectAll(".tick text")
    .attr("x", -p.yTickGap).attr("dy", "0.36em")
    .attr("font-size", yTickFs).attr("font-family", null).attr("fill", p.tickFill);

  // series
  const line = d3.line()
    .defined(d => d[1] !== null)
    .x(d => x(new Date(start.getTime() + d[0] * DAY)))
    .y(d => y(d[1]));
  p.series.forEach((s, i) => {
    g.append("path").datum(s)
      .attr("d", line)
      .attr("fill", "none")
      .attr("stroke", p.colors[i])
      .attr("stroke-width", p.lw)
      .attr("stroke-linejoin", "miter");
  });

  // legend
  const legFs = sizeFor(p.names[0], p.legendTextW);
  p.names.forEach((n, i) => {
    const lx = p.legendX[i];
    g.append("line")
      .attr("x1", lx).attr("x2", lx + p.legendLen)
      .attr("y1", p.legendCy).attr("y2", p.legendCy)
      .attr("stroke", p.colors[i]).attr("stroke-width", p.lw + 0.5);
    g.append("text")
      .attr("x", lx + p.legendLen + 1).attr("y", p.legendCy).attr("dy", "0.36em")
      .attr("font-size", legFs).attr("fill", p.tickFill).text(n);
  });

  // title
  const fullTitle = p.title.join("");
  const titleFs = sizeFor(fullTitle, p.titleW, "bold");
  const title = g.append("text")
    .attr("x", p.titleCx).attr("y", p.titleCy).attr("dy", "0.36em")
    .attr("text-anchor", "middle").attr("font-weight", "bold")
    .attr("font-size", titleFs).attr("fill", "#000").style("white-space", "pre");
  title.append("tspan").text(p.title[0]);
  if (p.title.length > 1) title.append("tspan").attr("font-size", titleFs * 0.8).text(p.title[1]);

  // axis titles
  g.append("text")
    .attr("x", p.xLabelCx).attr("y", p.xLabelCy).attr("dy", "0.36em")
    .attr("text-anchor", "middle").attr("font-weight", "bold")
    .attr("font-size", sizeFor(p.xLabel, p.xLabelW, "bold")).attr("fill", "#000")
    .text(p.xLabel);
  g.append("text")
    .attr("transform", `translate(${p.yLabelCx},${p.yLabelCy}) rotate(-90)`)
    .attr("dy", "0.36em").attr("text-anchor", "middle").attr("font-weight", "bold")
    .attr("font-size", sizeFor("PR/CI(psi)", p.yLabelW, "bold")).attr("fill", "#000")
    .text("PR/CI(psi)");

  return { g, x, y };
}

const drawn = panels.map(drawPanel);

// ---------- callout on the 2010 panel ----------
const first = drawn[0].g;
first.append("ellipse")
  .attr("cx", 688).attr("cy", 104).attr("rx", 175).attr("ry", 25)
  .attr("fill", "none").attr("stroke", "#ff0000").attr("stroke-width", 4.5);

const defs = svg.append("defs");
defs.append("marker").attr("id", "arrowHead")
  .attr("viewBox", "0 0 10 10").attr("refX", 9).attr("refY", 5)
  .attr("markerWidth", 9).attr("markerHeight", 9).attr("orient", "auto")
  .append("path").attr("d", "M0,1 L10,5 L0,9").attr("fill", "none")
  .attr("stroke", "#4a7ebb").attr("stroke-width", 1.4);

first.append("line")
  .attr("x1", 951).attr("y1", 44).attr("x2", 823).attr("y2", 90)
  .attr("stroke", "#4a7ebb").attr("stroke-width", 1.5)
  .attr("marker-end", "url(#arrowHead)");

first.append("rect")
  .attr("x", 952).attr("y", 18).attr("width", 262).attr("height", 110)
  .attr("fill", "#fff").attr("stroke", "#000").attr("stroke-width", 1.2);

const noteFs = sizeFor("trafficability period", 190);
first.append("text").attr("x", 973).attr("y", 50)
  .attr("font-size", noteFs).attr("fill", "#2f2a24").text("Favourable field");
first.append("text").attr("x", 973).attr("y", 80)
  .attr("font-size", noteFs).attr("fill", "#2f2a24").text("trafficability period");
</script>
</body>
</html>
